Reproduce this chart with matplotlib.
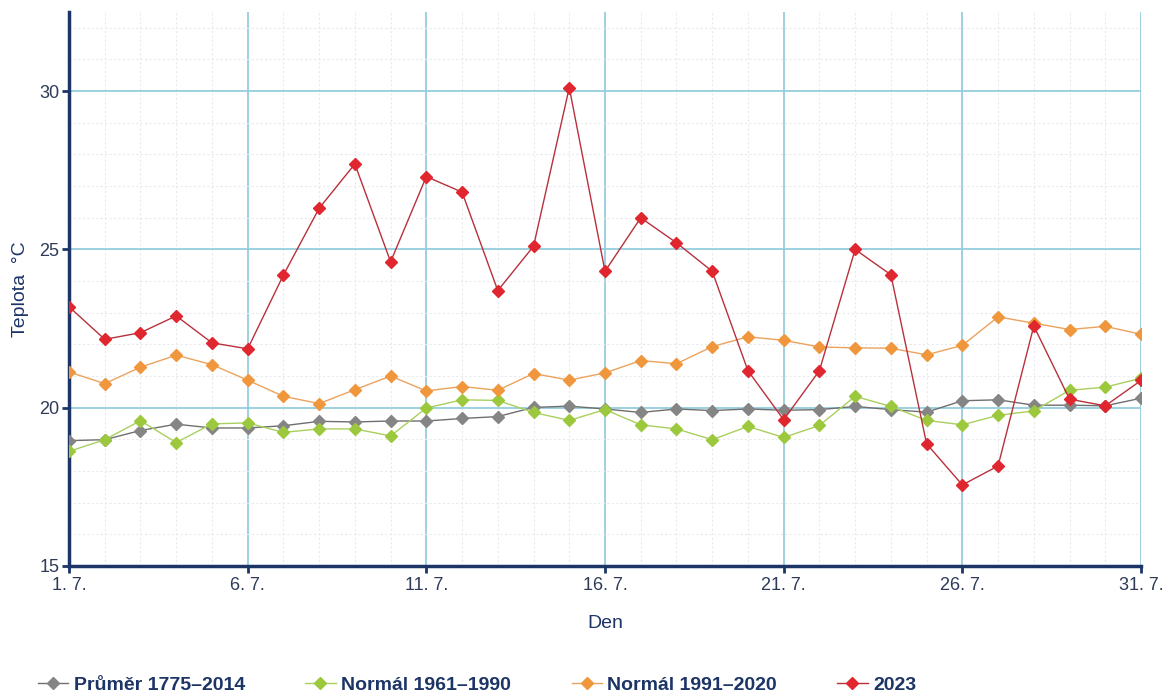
import matplotlib
matplotlib.use("Agg")
import matplotlib.pyplot as plt
from matplotlib.ticker import MultipleLocator, FixedLocator
from matplotlib.lines import Line2D

days = list(range(1, 32))
tick_days = [1, 6, 11, 16, 21, 26, 31]
tick_labels = ["1. 7.", "6. 7.", "11. 7.", "16. 7.", "21. 7.", "26. 7.", "31. 7."]

prumer_1775_2014 = [18.96, 18.99, 19.28, 19.48, 19.36, 19.36, 19.43, 19.57, 19.55, 19.58,
                    19.58, 19.66, 19.72, 20.01, 20.05, 19.96, 19.85, 19.96, 19.91, 19.96,
                    19.92, 19.94, 20.04, 19.94, 19.86, 20.22, 20.25, 20.08, 20.08, 20.06, 20.30]
normal_1961_1990 = [18.62, 18.99, 19.59, 18.90, 19.49, 19.52, 19.22, 19.33, 19.33, 19.11,
                    19.99, 20.25, 20.23, 19.85, 19.60, 19.94, 19.46, 19.33, 18.99, 19.41,
                    19.06, 19.44, 20.36, 20.04, 19.60, 19.46, 19.76, 19.90, 20.55, 20.65, 20.93]
normal_1991_2020 = [21.13, 20.76, 21.28, 21.66, 21.36, 20.87, 20.36, 20.13, 20.57, 21.00,
                    20.53, 20.67, 20.55, 21.08, 20.87, 21.10, 21.49, 21.39, 21.93, 22.24,
                    22.13, 21.92, 21.89, 21.88, 21.67, 21.97, 22.87, 22.67, 22.47, 22.57, 22.32]
rok_2023 = [23.19, 22.16, 22.37, 22.90, 22.05, 21.86, 24.19, 26.30, 27.70, 24.61,
            27.30, 26.81, 23.70, 25.10, 30.11, 24.31, 26.00, 25.21, 24.31, 21.17,
            19.62, 21.17, 25.00, 24.20, 18.86, 17.56, 18.16, 22.58, 20.27, 20.06, 20.86]

series = [
    ("Průměr 1775–2014", prumer_1775_2014, "#858585"),
    ("Normál 1961–1990", normal_1961_1990, "#9BC83C"),
    ("Normál 1991–2020", normal_1991_2020, "#F0963C"),
    ("2023", rok_2023, "#E0262E"),
]

navy = "#1C3466"
ticklab = "#2E3B58"
plt.rcParams['font.family'] = ['Liberation Sans', 'DejaVu Sans']

fig = plt.figure(figsize=(11.65, 6.92), dpi=100)
ax = fig.add_axes([69/1165, 1-566/692, (1141-69)/1165, (566-12)/692])

line_colors = {"#858585": "#6f6f6f", "#9BC83C": "#a9cf5e", "#F0963C": "#eba25c", "#E0262E": "#b8303c"}
for name, vals, c in series:
    ax.plot(days, vals, color=line_colors[c], lw=1.0, marker="D", markersize=6.3,
            markerfacecolor=c, markeredgecolor=c, zorder=3)

ax.set_xlim(1, 31)
ax.set_ylim(15, 32.5)
ax.xaxis.set_major_locator(FixedLocator(tick_days))
ax.set_xticklabels(tick_labels)
ax.xaxis.set_minor_locator(MultipleLocator(1))
ax.yaxis.set_major_locator(FixedLocator([15, 20, 25, 30]))
ax.yaxis.set_minor_locator(MultipleLocator(1))

ax.grid(which="major", color="#94CEDD", lw=1.3, zorder=1)
ax.grid(which="minor", color="#E8EAEE", lw=0.8, ls=(0, (2, 2)), zorder=0)

for s in ["top", "right"]:
    ax.spines[s].set_visible(False)
for s in ["left", "bottom"]:
    ax.spines[s].set_color(navy)
    ax.spines[s].set_linewidth(2.5)

ax.tick_params(axis="both", which="major", colors=navy, labelcolor=ticklab, labelsize=13,
               length=5, width=2)
ax.tick_params(axis="both", which="minor", length=0)
ax.tick_params(axis="x", pad=3)
ax.tick_params(axis="y", pad=2)

ax.set_ylabel("Teplota  °C", color=navy, fontsize=14, labelpad=7)
ax.set_xlabel("Den", color=navy, fontsize=14, labelpad=15)

handles = [Line2D([0], [0], color=line_colors[c], lw=1.0, marker="D", markersize=6.3,
                  markerfacecolor=c, markeredgecolor=c) for _, _, c in series]
labels = [n for n, _, _ in series]
leg = fig.legend(handles, labels, loc="center left", bbox_to_anchor=(34/1165, 1-685/692),
                 ncol=4, frameon=False, handlelength=1.55, handletextpad=0.3, columnspacing=3.1,
                 borderaxespad=0, borderpad=0.2,
                 prop={"family": ["Liberation Sans", "DejaVu Sans"],
                       "weight": "bold", "size": 14})
for t in leg.get_texts():
    t.set_color(navy)

fig.savefig("out.png", dpi=100)
